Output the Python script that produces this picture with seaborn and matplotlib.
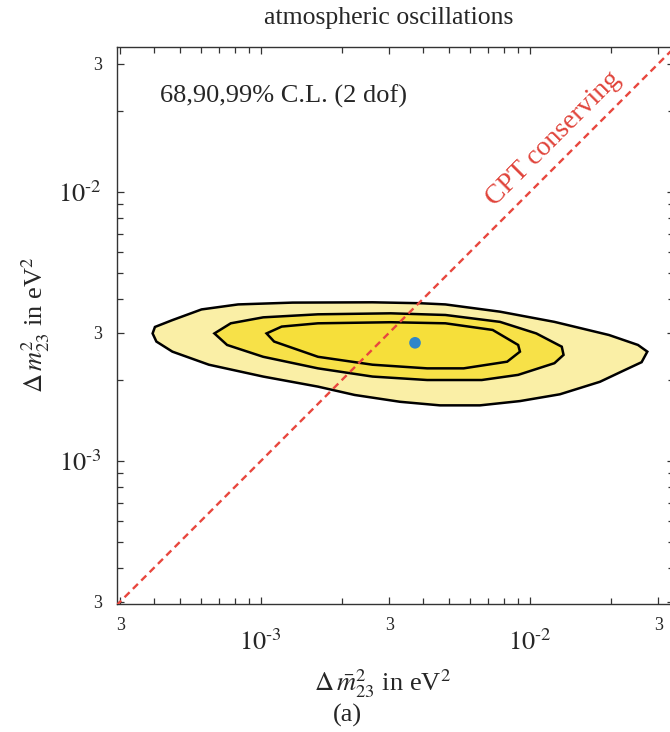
import numpy as np
import matplotlib
matplotlib.use("Agg")
import matplotlib.pyplot as plt
import seaborn as sns
from matplotlib.ticker import FixedLocator, LogLocator, NullFormatter
from matplotlib.transforms import ScaledTranslation

# allowed regions, in units of 1e-3 eV^2
# (x = anti-neutrino dm^2_23, y = neutrino dm^2_23)
cl99_x = [0.396, 0.404, 0.469, 0.602, 0.823, 1.312, 2.60, 3.90, 4.85, 7.74, 12.33, 19.67, 25.2, 27.3,
          26.0, 22.55, 18.2, 12.92, 9.18, 6.52, 4.63, 3.29, 2.23, 1.63, 1.02, 0.641, 0.469, 0.409]
cl99_y = [2.98, 3.15, 3.34, 3.66, 3.82, 3.88, 3.89, 3.86, 3.82, 3.59, 3.29, 2.94, 2.70, 2.55,
          2.33, 2.18, 1.97, 1.77, 1.67, 1.61, 1.61, 1.66, 1.76, 1.89, 2.06, 2.28, 2.55, 2.78]

cl90_x = [0.672, 0.773, 1.02, 1.63, 3.04, 4.85, 7.74, 10.56, 13.13, 13.33, 12.33, 9.04, 6.62,
          4.15, 2.60, 1.63, 1.02, 0.749]
cl90_y = [2.98, 3.25, 3.42, 3.51, 3.54, 3.49, 3.29, 2.98, 2.66, 2.48, 2.31, 2.09, 2.00,
          2.00, 2.06, 2.21, 2.44, 2.70]

cl68_x = [1.05, 1.195, 1.63, 3.04, 4.85, 7.27, 9.04, 9.18, 8.23, 5.67, 4.15, 2.60, 1.63, 1.12]
cl68_y = [2.98, 3.16, 3.25, 3.28, 3.25, 3.07, 2.70, 2.55, 2.34, 2.21, 2.21, 2.28, 2.44, 2.78]

best_fit_x = [3.74]
best_fit_y = [2.75]

cpt_line = [0.29, 36.0]  # dm2bar = dm2

tick_vals = [0.3, 1.0, 3.0, 10.0, 30.0]
tick_labels = ["3", r"$10^{\text{-}3}$", "3", r"$10^{\text{-}2}$", "3"]

sns.set_style("ticks")
plt.rcParams['font.family'] = ['Liberation Serif', 'DejaVu Serif']
plt.rcParams['mathtext.fontset'] = 'stix'

fig = plt.figure(figsize=(6.7, 7.32), dpi=100)
ax = fig.add_axes([117 / 670, 1 - 604 / 732, 557 / 670, 557 / 732])

s = 1e-3
ax.fill(np.array(cl99_x) * s, np.array(cl99_y) * s, facecolor='#faefa6', edgecolor='black', lw=1.8, zorder=2)
ax.fill(np.array(cl90_x) * s, np.array(cl90_y) * s, facecolor='#f7e148', edgecolor='black', lw=1.8, zorder=3)
ax.fill(np.array(cl68_x) * s, np.array(cl68_y) * s, facecolor='#f6df3a', edgecolor='black', lw=1.8, zorder=4)

sns.lineplot(x=np.array(cpt_line) * s, y=np.array(cpt_line) * s, ax=ax, color='#e8473e',
             linestyle=(0, (3, 2)), lw=1.7, zorder=5)
sns.scatterplot(x=np.array(best_fit_x) * s, y=np.array(best_fit_y) * s, ax=ax, color='#2f86c9',
                s=70, edgecolor='none', zorder=6)

ax.set_xscale('log')
ax.set_yscale('log')
ax.set_xlim(2.92e-4, 3.43e-2)
ax.set_ylim(2.94e-4, 3.46e-2)

for axis in (ax.xaxis, ax.yaxis):
    axis.set_major_locator(FixedLocator(np.array(tick_vals) * s))
    axis.set_minor_locator(LogLocator(base=10, subs=(2, 4, 5, 6, 7, 8, 9)))
    axis.set_minor_formatter(NullFormatter())

ax.tick_params(which='both', direction='in', top=True, right=True, color='#333333', width=0.9)
ax.tick_params(which='major', length=5)
ax.tick_params(axis='x', which='major', pad=9)
ax.tick_params(axis='y', which='major', pad=11)
ax.tick_params(which='minor', length=4)

ax.set_xticklabels(tick_labels)
ax.set_yticklabels(tick_labels)
for lab in ax.get_xticklabels() + ax.get_yticklabels():
    lab.set_fontsize(13 if lab.get_text() == "3" else 19)
# the power labels on the x axis sit a bit lower than the "3"s
for lab in ax.get_xticklabels():
    if lab.get_text() != "3":
        lab.set_transform(lab.get_transform() + ScaledTranslation(0, -9 / 72, fig.dpi_scale_trans))

for sp in ax.spines.values():
    sp.set_color('#333333')
    sp.set_linewidth(1.0)
ax.set_xlabel('')
ax.set_ylabel('')

ax.text(1.22e-2, 1.58e-2, 'CPT conserving', color='#e0433a', fontsize=20, rotation=45,
        ha='center', va='center', rotation_mode='anchor', zorder=7)

fig.text(389 / 670, 1 - 18 / 732, 'atmospheric oscillations', fontsize=18.5, ha='center', va='center')
fig.text(160 / 670, 1 - 96 / 732, '68,90,99% C.L. (2 dof)', fontsize=19, ha='left', va='center')
fig.text(383 / 670, 1 - 684 / 732, r'$\Delta\,\bar{m}^{2}_{23}$ in eV$^2$', fontsize=19, ha='center', va='center')
fig.text(36 / 670, 1 - 325 / 732, r'$\Delta\,m^{2}_{23}$ in eV$^2$', fontsize=19, ha='center', va='center',
         rotation=90)
fig.text(347 / 670, 1 - 715 / 732, '(a)', fontsize=19, ha='center', va='center')

fig.savefig('out.png', dpi=100)
